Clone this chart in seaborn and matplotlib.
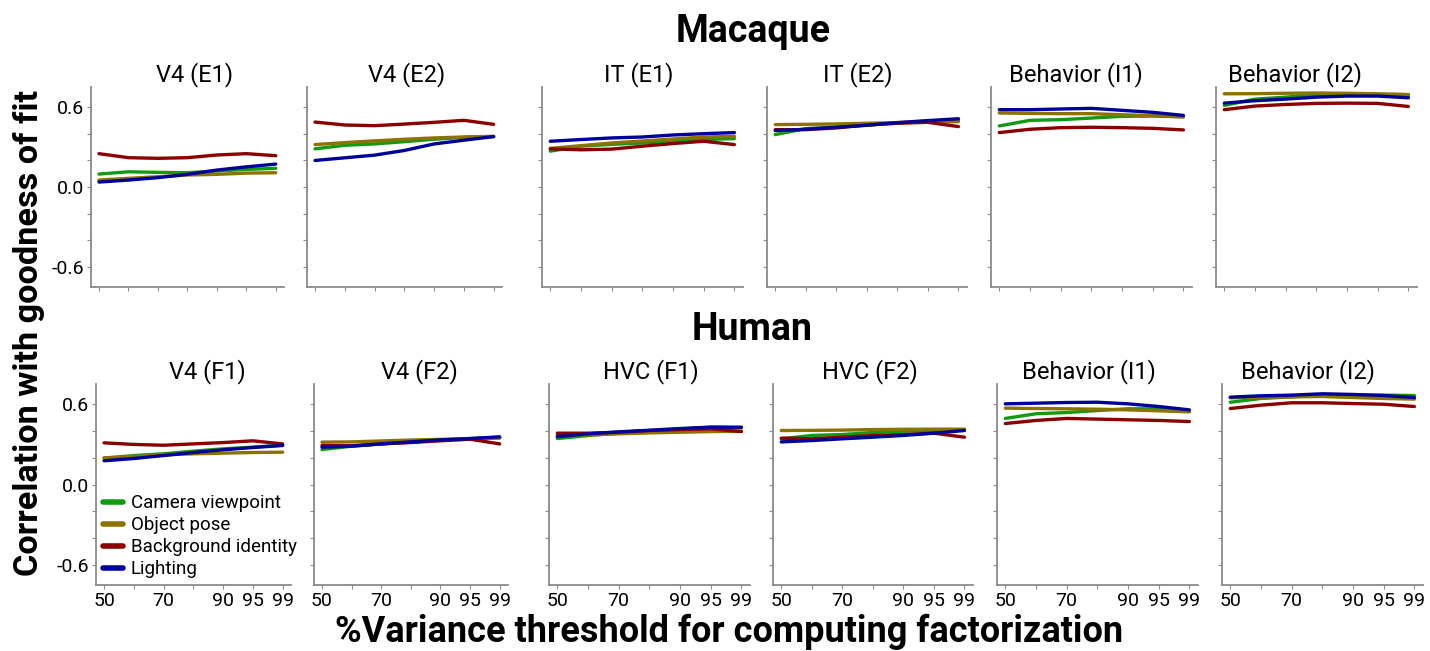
import numpy as np
import pandas as pd
import matplotlib
matplotlib.use("Agg")
import matplotlib.pyplot as plt
import seaborn as sns

sns.set_theme(style="white")
plt.rcParams['font.family'] = ['Roboto', 'DejaVu Sans']
plt.rcParams['text.color'] = 'black'
plt.rcParams['axes.labelcolor'] = 'black'
plt.rcParams['xtick.labelcolor'] = 'black'
plt.rcParams['ytick.labelcolor'] = 'black'

# ---------------- data ----------------
thresholds = ["50", "60", "70", "80", "90", "95", "99"]
tick_labels = ["50", "", "70", "", "90", "95", "99"]
factors = ["Camera viewpoint", "Object pose", "Background identity", "Lighting"]
colors = ["#129a12", "#8c7200", "#8b0000", "#00009a"]

macaque_titles = ["V4 (E1)", "V4 (E2)", "IT (E1)", "IT (E2)", "Behavior (I1)", "Behavior (I2)"]
human_titles = ["V4 (F1)", "V4 (F2)", "HVC (F1)", "HVC (F2)", "Behavior (I1)", "Behavior (I2)"]

# each panel: camera, pose, background, lighting
mac_v4_e1_cam = [0.097, 0.114, 0.110, 0.107, 0.120, 0.132, 0.140]
mac_v4_e1_pose = [0.052, 0.065, 0.077, 0.090, 0.095, 0.104, 0.107]
mac_v4_e1_bg = [0.250, 0.220, 0.215, 0.220, 0.240, 0.250, 0.235]
mac_v4_e1_light = [0.037, 0.052, 0.070, 0.095, 0.127, 0.151, 0.172]

mac_v4_e2_cam = [0.286, 0.313, 0.323, 0.340, 0.358, 0.373, 0.378]
mac_v4_e2_pose = [0.318, 0.333, 0.346, 0.358, 0.368, 0.375, 0.380]
mac_v4_e2_bg = [0.487, 0.465, 0.460, 0.472, 0.485, 0.500, 0.470]
mac_v4_e2_light = [0.199, 0.219, 0.239, 0.274, 0.323, 0.351, 0.378]

mac_it_e1_cam = [0.269, 0.306, 0.320, 0.330, 0.343, 0.356, 0.363]
mac_it_e1_pose = [0.290, 0.310, 0.330, 0.345, 0.360, 0.375, 0.380]
mac_it_e1_bg = [0.286, 0.279, 0.284, 0.306, 0.326, 0.343, 0.318]
mac_it_e1_light = [0.343, 0.356, 0.368, 0.375, 0.390, 0.400, 0.408]

mac_it_e2_cam = [0.393, 0.438, 0.450, 0.465, 0.480, 0.495, 0.500]
mac_it_e2_pose = [0.468, 0.470, 0.473, 0.478, 0.483, 0.487, 0.490]
mac_it_e2_bg = [0.430, 0.430, 0.443, 0.465, 0.478, 0.485, 0.453]
mac_it_e2_light = [0.423, 0.433, 0.448, 0.463, 0.483, 0.498, 0.512]

mac_beh_i1_cam = [0.458, 0.500, 0.505, 0.517, 0.530, 0.532, 0.527]
mac_beh_i1_pose = [0.555, 0.552, 0.550, 0.550, 0.542, 0.535, 0.525]
mac_beh_i1_bg = [0.408, 0.433, 0.445, 0.448, 0.445, 0.440, 0.428]
mac_beh_i1_light = [0.580, 0.580, 0.585, 0.590, 0.575, 0.560, 0.537]

mac_beh_i2_cam = [0.612, 0.659, 0.674, 0.692, 0.697, 0.694, 0.684]
mac_beh_i2_pose = [0.699, 0.700, 0.703, 0.705, 0.703, 0.699, 0.694]
mac_beh_i2_bg = [0.580, 0.607, 0.619, 0.627, 0.629, 0.627, 0.604]
mac_beh_i2_light = [0.629, 0.647, 0.659, 0.674, 0.682, 0.682, 0.669]

hum_v4_f1_cam = [0.196, 0.216, 0.229, 0.249, 0.266, 0.279, 0.294]
hum_v4_f1_pose = [0.199, 0.209, 0.221, 0.229, 0.234, 0.239, 0.241]
hum_v4_f1_bg = [0.311, 0.299, 0.293, 0.303, 0.313, 0.326, 0.303]
hum_v4_f1_light = [0.177, 0.194, 0.216, 0.239, 0.259, 0.276, 0.291]

hum_v4_f2_cam = [0.261, 0.286, 0.303, 0.318, 0.331, 0.343, 0.351]
hum_v4_f2_pose = [0.316, 0.318, 0.325, 0.332, 0.337, 0.342, 0.346]
hum_v4_f2_bg = [0.291, 0.289, 0.303, 0.313, 0.326, 0.338, 0.303]
hum_v4_f2_light = [0.279, 0.286, 0.303, 0.318, 0.333, 0.343, 0.356]

hum_hvc_f1_cam = [0.343, 0.365, 0.383, 0.393, 0.413, 0.428, 0.423]
hum_hvc_f1_pose = [0.370, 0.370, 0.378, 0.385, 0.390, 0.395, 0.397]
hum_hvc_f1_bg = [0.383, 0.383, 0.390, 0.403, 0.410, 0.416, 0.395]
hum_hvc_f1_light = [0.358, 0.378, 0.393, 0.405, 0.418, 0.428, 0.428]

hum_hvc_f2_cam = [0.341, 0.366, 0.373, 0.388, 0.398, 0.403, 0.408]
hum_hvc_f2_pose = [0.403, 0.404, 0.406, 0.410, 0.412, 0.413, 0.413]
hum_hvc_f2_bg = [0.346, 0.341, 0.353, 0.366, 0.373, 0.383, 0.353]
hum_hvc_f2_light = [0.318, 0.328, 0.341, 0.353, 0.366, 0.383, 0.403]

hum_beh_i1_cam = [0.493, 0.528, 0.537, 0.552, 0.565, 0.565, 0.545]
hum_beh_i1_pose = [0.570, 0.567, 0.565, 0.562, 0.557, 0.550, 0.542]
hum_beh_i1_bg = [0.455, 0.478, 0.493, 0.488, 0.483, 0.478, 0.470]
hum_beh_i1_light = [0.602, 0.607, 0.612, 0.614, 0.602, 0.582, 0.557]

hum_beh_i2_cam = [0.614, 0.642, 0.654, 0.667, 0.667, 0.667, 0.664]
hum_beh_i2_pose = [0.647, 0.652, 0.654, 0.657, 0.649, 0.642, 0.637]
hum_beh_i2_bg = [0.567, 0.592, 0.610, 0.610, 0.604, 0.599, 0.582]
hum_beh_i2_light = [0.652, 0.662, 0.667, 0.677, 0.672, 0.664, 0.649]

macaque_panels = [
    [mac_v4_e1_cam, mac_v4_e1_pose, mac_v4_e1_bg, mac_v4_e1_light],
    [mac_v4_e2_cam, mac_v4_e2_pose, mac_v4_e2_bg, mac_v4_e2_light],
    [mac_it_e1_cam, mac_it_e1_pose, mac_it_e1_bg, mac_it_e1_light],
    [mac_it_e2_cam, mac_it_e2_pose, mac_it_e2_bg, mac_it_e2_light],
    [mac_beh_i1_cam, mac_beh_i1_pose, mac_beh_i1_bg, mac_beh_i1_light],
    [mac_beh_i2_cam, mac_beh_i2_pose, mac_beh_i2_bg, mac_beh_i2_light],
]
human_panels = [
    [hum_v4_f1_cam, hum_v4_f1_pose, hum_v4_f1_bg, hum_v4_f1_light],
    [hum_v4_f2_cam, hum_v4_f2_pose, hum_v4_f2_bg, hum_v4_f2_light],
    [hum_hvc_f1_cam, hum_hvc_f1_pose, hum_hvc_f1_bg, hum_hvc_f1_light],
    [hum_hvc_f2_cam, hum_hvc_f2_pose, hum_hvc_f2_bg, hum_hvc_f2_light],
    [hum_beh_i1_cam, hum_beh_i1_pose, hum_beh_i1_bg, hum_beh_i1_light],
    [hum_beh_i2_cam, hum_beh_i2_pose, hum_beh_i2_bg, hum_beh_i2_light],
]

# ---------------- layout ----------------
W, H = 1430, 651
fig = plt.figure(figsize=(W / 100, H / 100), dpi=100)

top_x = [(91, 284), (307, 502), (542, 743), (767, 967), (991, 1192), (1216, 1417)]
bot_x = [(96, 291), (314, 508), (549, 750), (773, 973), (997, 1198), (1222, 1423)]
top_y = (87, 287)
bot_y = (384, 585)
top_title_c = [195, 407, 639, 858, 1076, 1295]
bot_title_c = [207, 419, 651, 870, 1089, 1308]

palette = dict(zip(factors, colors))
spine_col = "#8a8a8a"


def make_panel(xr, yr, series, title, title_c, show_y, show_x, legend=False):
    x0, x1 = xr
    y0, y1 = yr
    ax = fig.add_axes([x0 / W, 1 - y1 / H, (x1 - x0) / W, (y1 - y0) / H])
    rows = []
    for f, vals in zip(factors, series):
        for i, v in enumerate(vals):
            rows.append({"idx": i, "value": v, "factor": f})
    df = pd.DataFrame(rows)
    sns.lineplot(data=df, x="idx", y="value", hue="factor", hue_order=factors,
                 palette=palette, linewidth=2.4, ax=ax, legend=legend)
    ax.set_xlim(-0.27, 6.28)
    ax.set_ylim(-0.75, 0.75)
    ax.set_xticks(range(len(thresholds)))
    ax.set_yticks([-0.6, -0.4, -0.2, 0.0, 0.2, 0.4, 0.6])
    if show_x:
        ax.set_xticklabels(tick_labels)
    else:
        ax.set_xticklabels([""] * len(thresholds))
    if show_y:
        ax.set_yticklabels(["-0.6", "", "", "0.0", "", "", "0.6"])
    else:
        ax.set_yticklabels([""] * 7)
    ax.set_xlabel("")
    ax.set_ylabel("")
    for s in ["top", "right"]:
        ax.spines[s].set_visible(False)
    for s in ["left", "bottom"]:
        ax.spines[s].set_color(spine_col)
        ax.spines[s].set_linewidth(1.3)
    ax.tick_params(axis="both", which="both", direction="out", length=3, width=0.8,
                   color=spine_col, labelcolor="black", labelsize=14, pad=2,
                   left=True, bottom=True)
    rel = (title_c - x0) / (x1 - x0)
    ax.set_title(title, x=rel, fontsize=17, pad=4, color="black")
    if legend:
        leg = ax.legend(loc="lower left", bbox_to_anchor=(0.0, 0.0), frameon=False,
                        fontsize=13.5, handlelength=1.1, handletextpad=0.4,
                        labelspacing=0.22, borderaxespad=0.15, borderpad=0.2)
        for line in leg.get_lines():
            line.set_linewidth(4)
        for t in leg.get_texts():
            t.set_color("black")
    return ax


for j in range(6):
    make_panel(top_x[j], top_y, macaque_panels[j], macaque_titles[j], top_title_c[j],
               show_y=(j == 0), show_x=False)
    make_panel(bot_x[j], bot_y, human_panels[j], human_titles[j], bot_title_c[j],
               show_y=(j == 0), show_x=True, legend=(j == 0))

fig.text(753 / W, 1 - 31 / H, "Macaque", ha="center", va="center",
         fontsize=27, fontweight="bold", color="black")
fig.text(752 / W, 1 - 330 / H, "Human", ha="center", va="center",
         fontsize=27, fontweight="bold", color="black")
fig.text(29 / W, 1 - 333 / H, "Correlation with goodness of fit", ha="center",
         va="center", rotation=90, fontsize=24.7, fontweight="bold", color="black")
fig.text(729 / W, 1 - 632 / H, "%Variance threshold for computing factorization",
         ha="center", va="center", fontsize=26, fontweight="bold", color="black")

fig.savefig("out.png", dpi=100)
